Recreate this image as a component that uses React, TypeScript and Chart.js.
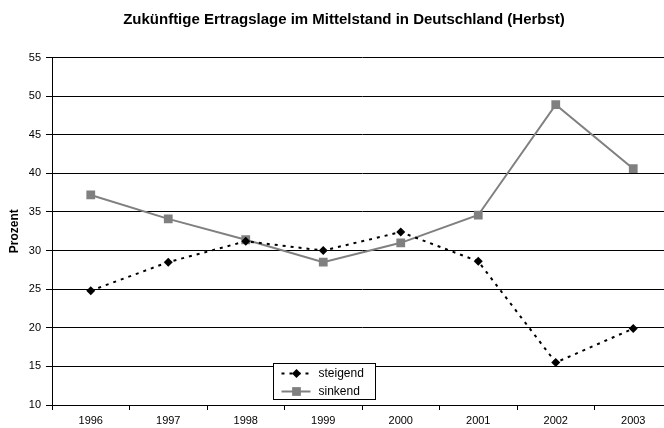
import React, { useEffect, useRef } from "react";
import { Chart, registerables } from "chart.js";

Chart.register(...registerables);

const chartTitle = "Zukünftige Ertragslage im Mittelstand in Deutschland (Herbst)";
const yAxisTitle = "Prozent";
const years = ["1996", "1997", "1998", "1999", "2000", "2001", "2002", "2003"];
const steigend = [24.8, 28.5, 31.2, 30.0, 32.4, 28.6, 15.5, 19.9];
const sinkend = [37.2, 34.1, 31.4, 28.5, 31.0, 34.6, 48.9, 40.6];
const seriesLabels = ["steigend", "sinkend"];
const yMin = 10;
const yMax = 55;
const yStep = 5;

const FONT = "'Liberation Sans', Arial, sans-serif";

function drawMarker(ctx: CanvasRenderingContext2D, style: string, x: number, y: number, r: number, color: string) {
  ctx.fillStyle = color;
  ctx.beginPath();
  if (style === "rectRot") {
    ctx.moveTo(x, y - r);
    ctx.lineTo(x + r, y);
    ctx.lineTo(x, y + r);
    ctx.lineTo(x - r, y);
    ctx.closePath();
  } else {
    const s = r / Math.SQRT2;
    ctx.rect(x - s, y - s, 2 * s, 2 * s);
  }
  ctx.fill();
}

const boxLegend = {
  id: "boxLegend",
  afterDraw(chart: any) {
    const { ctx, chartArea } = chart;
    const x0 = Math.round(chartArea.left + 221) + 0.5;
    const y0 = Math.round(chartArea.top + 305) + 0.5;
    const w = 102;
    const h = 36;
    ctx.save();
    ctx.fillStyle = "#ffffff";
    ctx.fillRect(x0, y0, w, h);
    ctx.strokeStyle = "#000000";
    ctx.lineWidth = 1;
    ctx.setLineDash([]);
    ctx.strokeRect(x0, y0, w, h);
    chart.data.datasets.forEach((ds: any, i: number) => {
      const cy = y0 + 10 + i * 18;
      ctx.strokeStyle = ds.borderColor;
      ctx.lineWidth = ds.borderWidth;
      ctx.setLineDash(ds.borderDash || []);
      ctx.beginPath();
      ctx.moveTo(x0 + 8, cy);
      ctx.lineTo(x0 + 37, cy);
      ctx.stroke();
      ctx.setLineDash([]);
      drawMarker(ctx, ds.pointStyle, x0 + 23, cy, ds.pointRadius, ds.pointBackgroundColor);
      ctx.fillStyle = "#000000";
      ctx.font = `12px ${FONT}`;
      ctx.textBaseline = "middle";
      ctx.textAlign = "left";
      ctx.fillText(ds.label, x0 + 45, cy);
    });
    ctx.restore();
  },
};

export default function App() {
  const ref = useRef<HTMLCanvasElement>(null);

  useEffect(() => {
    if (!ref.current) return;
    const chart = new Chart(ref.current, {
      type: "line",
      data: {
        labels: years,
        datasets: [
          {
            label: seriesLabels[0],
            data: steigend,
            borderColor: "#000000",
            borderWidth: 2,
            borderDash: [3, 5],
            pointStyle: "rectRot",
            pointRadius: 4.5,
            pointBackgroundColor: "#000000",
            pointBorderColor: "#000000",
            pointBorderWidth: 0,
            tension: 0,
          },
          {
            label: seriesLabels[1],
            data: sinkend,
            borderColor: "#808080",
            borderWidth: 2,
            pointStyle: "rect",
            pointRadius: 6.2,
            pointBackgroundColor: "#808080",
            pointBorderColor: "#808080",
            pointBorderWidth: 0,
            tension: 0,
          },
        ],
      },
      plugins: [boxLegend],
      options: {
        animation: false,
        responsive: false,
        maintainAspectRatio: false,
        layout: { padding: { left: 16, right: 16, top: 0, bottom: 0 } },
        plugins: {
          legend: { display: false },
          tooltip: { enabled: false },
          title: {
            display: true,
            text: chartTitle,
            color: "#000000",
            font: { family: FONT, size: 15, weight: "bold" },
            padding: { top: 11, bottom: 28.5 },
          },
        },
        scales: {
          x: {
            offset: true,
            grid: {
              offset: true,
              drawOnChartArea: false,
              drawTicks: true,
              tickLength: 5,
              color: "#000000",
            },
            border: { color: "#000000", width: 1 },
            ticks: {
              color: "#000000",
              font: { family: FONT, size: 11 },
              padding: 4,
              maxRotation: 0,
            },
            afterFit(scale: any) {
              scale.height = 23;
            },
          },
          y: {
            min: yMin,
            max: yMax,
            ticks: {
              stepSize: yStep,
              color: "#000000",
              font: { family: FONT, size: 11 },
              padding: 5,
            },
            grid: {
              color: "#000000",
              lineWidth: 1,
              tickLength: 6,
              drawTicks: true,
            },
            border: { color: "#000000", width: 1 },
            title: {
              display: true,
              text: yAxisTitle,
              color: "#000000",
              font: { family: FONT, size: 12, weight: "bold" },
              padding: { top: -8.5, bottom: 0 },
            },
            afterFit(scale: any) {
              scale.width = 36;
            },
          },
        },
      },
    });
    return () => chart.destroy();
  }, []);

  return (
    <div style={{ position: "fixed", left: 0, top: 0, width: 664, height: 428, overflow: "hidden", background: "#fff" }}>
      <canvas ref={ref} width={688} height={428} style={{ display: "block", width: 688, height: 428 }} />
    </div>
  );
}
